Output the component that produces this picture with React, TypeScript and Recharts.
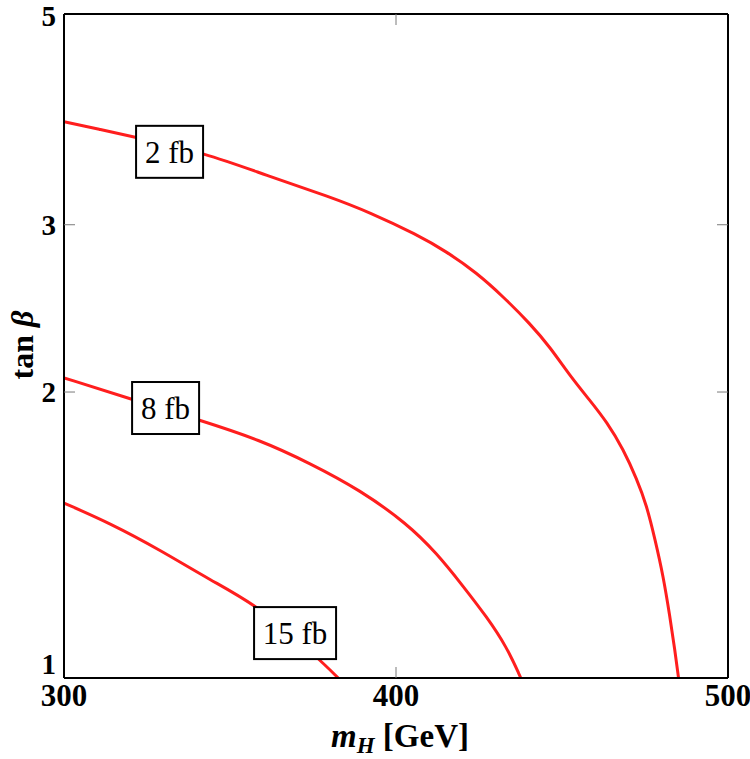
import React from 'react';
import { ComposedChart, Line, Scatter, XAxis, YAxis } from 'recharts';

// contour lines of constant cross section
const mH2fb = [300, 310.8, 321.4, 342.5, 361.1, 380.1, 392.2, 406.2, 415.3, 424.3, 432.3, 440.4, 446.4, 452.4, 458.4, 463.5, 468.5, 472.5, 475.5, 478.0, 480.5, 482.5, 484.0, 485.1];
const tb2fb = [3.85, 3.78, 3.71, 3.57, 3.38, 3.21, 3.09, 2.93, 2.81, 2.67, 2.52, 2.36, 2.23, 2.08, 1.96, 1.86, 1.74, 1.62, 1.52, 1.40, 1.28, 1.16, 1.07, 1.0];

const mH8fb = [300, 320.4, 341.0, 359.0, 374.1, 389.2, 403.2, 412.3, 420.3, 427.3, 433.3, 437.6];
const tb8fb = [2.07, 1.965, 1.868, 1.781, 1.683, 1.577, 1.455, 1.353, 1.248, 1.16, 1.079, 1.0];

const mH15fb = [300, 313.9, 328.9, 344.0, 359.0, 377.1, 382.6];
const tb15fb = [1.528, 1.455, 1.364, 1.268, 1.189, 1.045, 1.0];

// contour labels
const labelText = ['2 fb', '8 fb', '15 fb'];
const labelMH = [331.8, 330.6, 369.6];
const labelTb = [3.58, 1.924, 1.115];

const xTicks = [300, 400, 500];
const yTicks = [1, 2, 3, 5];
const xInnerTicks = [400];
const yInnerTicks = [2, 3];

const toPoints = (xs: number[], ys: number[]) => xs.map((x, i) => ({ x, y: ys[i] }));

const curves = [
  { name: '2 fb', data: toPoints(mH2fb, tb2fb) },
  { name: '8 fb', data: toPoints(mH8fb, tb8fb) },
  { name: '15 fb', data: toPoints(mH15fb, tb15fb) },
];
const labels = labelText.map((text, i) => ({ x: labelMH[i], y: labelTb[i], text }));

const SERIF = '"Liberation Serif", "Times New Roman", serif';
const RED = '#ff1e1e';
const TICK_GRAY = '#7a7a7a';
const TICK_LEN = 11;
const X_MARGIN = 6;
const Y_MARGIN = 8;

// bottom axis: label below, short inward mark at inner ticks
function XTick({ x, y, payload }: any) {
  const axisY = y - X_MARGIN;
  return (
    <g>
      {xInnerTicks.includes(payload.value) && (
        <line x1={x} x2={x} y1={axisY} y2={axisY - TICK_LEN} stroke={TICK_GRAY} strokeWidth={1} />
      )}
      <text x={x} y={y} dy="0.71em" textAnchor="middle" fontFamily={SERIF} fontWeight="bold" fontSize={31} fill="#000">
        {payload.value}
      </text>
    </g>
  );
}

// left axis; the bottom label sits above the corner so it clears "300"
function YTick({ x, y, payload }: any) {
  const axisX = x + Y_MARGIN;
  const shift = payload.value === 1 ? -14 : payload.value === 5 ? 2 : 0;
  return (
    <g>
      {yInnerTicks.includes(payload.value) && (
        <line x1={axisX} x2={axisX + TICK_LEN} y1={y} y2={y} stroke={TICK_GRAY} strokeWidth={1} />
      )}
      <text x={x} y={y + shift} dy="0.35em" textAnchor="end" fontFamily={SERIF} fontWeight="bold" fontSize={29} fill="#000">
        {payload.value}
      </text>
    </g>
  );
}

function TopTick({ x, y }: any) {
  return <line x1={x} x2={x} y1={y} y2={y + TICK_LEN} stroke={TICK_GRAY} strokeWidth={1} />;
}

function RightTick({ x, y }: any) {
  return <line x1={x} x2={x - TICK_LEN} y1={y} y2={y} stroke={TICK_GRAY} strokeWidth={1} />;
}

function LabelBox({ cx, cy, payload }: any) {
  const w = payload.text.length * 15 + 7;
  const h = 52;
  return (
    <g>
      <rect x={cx - w / 2} y={cy - h / 2} width={w} height={h} fill="#fff" stroke="#000" strokeWidth={2} />
      <text x={cx} y={cy} dy="0.36em" textAnchor="middle" fontFamily={SERIF} fontSize={31} fill="#000">
        {payload.text}
      </text>
    </g>
  );
}

function XTitle({ viewBox }: any) {
  const cx = viewBox.x + viewBox.width / 2 + 4;
  return (
    <text x={cx} y={747} textAnchor="middle" fontFamily={SERIF} fontWeight="bold" fontSize={33} fill="#000">
      <tspan fontStyle="italic">m</tspan>
      <tspan fontStyle="italic" fontSize={23} dy={6}>H</tspan>
      <tspan dy={-6}> [GeV]</tspan>
    </text>
  );
}

function YTitle() {
  const cx = 33;
  const cy = 345;
  return (
    <text x={cx} y={cy} transform={`rotate(-90 ${cx} ${cy})`} textAnchor="middle" fontFamily={SERIF} fontWeight="bold" fontSize={32} fill="#000">
      tan <tspan fontStyle="italic">β</tspan>
    </text>
  );
}

const frame = { stroke: '#000', strokeWidth: 2 };

export default function App() {
  return (
    <div style={{ position: 'absolute', left: 0, top: 0, background: '#fff' }}>
      <ComposedChart width={750} height={759} margin={{ top: 0, right: 0, bottom: 0, left: 0 }}>
        <XAxis
          xAxisId="b" dataKey="x" type="number" domain={[300, 500]} allowDataOverflow
          ticks={xTicks} interval={0} height={81} tickSize={0} tickMargin={X_MARGIN}
          tickLine={false} axisLine={frame} tick={<XTick />} label={<XTitle />}
        />
        <XAxis
          xAxisId="t" orientation="top" dataKey="x" type="number" domain={[300, 500]} allowDataOverflow
          ticks={xInnerTicks} interval={0} height={14} tickSize={0} tickMargin={0}
          tickLine={false} axisLine={frame} tick={<TopTick />}
        />
        <YAxis
          yAxisId="l" dataKey="y" type="number" scale="log" domain={[1, 5]} allowDataOverflow
          ticks={yTicks} interval={0} width={64} tickSize={0} tickMargin={Y_MARGIN}
          tickLine={false} axisLine={frame} tick={<YTick />} label={<YTitle />}
        />
        <YAxis
          yAxisId="r" orientation="right" dataKey="y" type="number" scale="log" domain={[1, 5]} allowDataOverflow
          ticks={yInnerTicks} interval={0} width={22} tickSize={0} tickMargin={0}
          tickLine={false} axisLine={frame} tick={<RightTick />}
        />
        {curves.map(c => (
          <Line
            key={c.name} xAxisId="b" yAxisId="l" data={c.data} dataKey="y" type="basis"
            stroke={RED} strokeWidth={3} dot={false} activeDot={false} isAnimationActive={false}
          />
        ))}
        <Scatter xAxisId="b" yAxisId="l" data={labels} dataKey="y" shape={<LabelBox />} isAnimationActive={false} />
      </ComposedChart>
    </div>
  );
}
